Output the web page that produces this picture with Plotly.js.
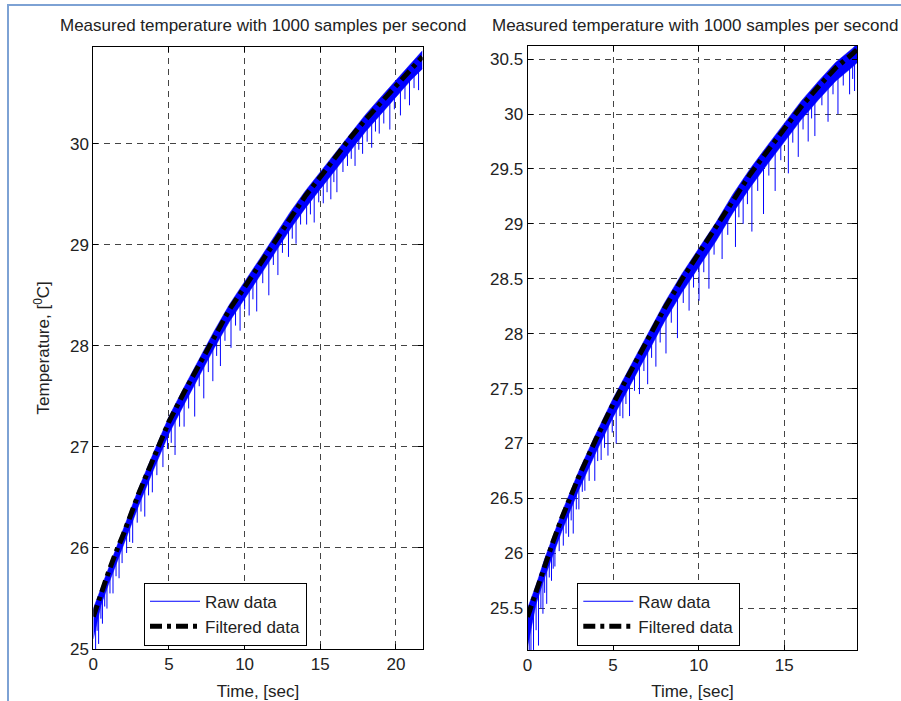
<!DOCTYPE html>
<html>
<head>
<meta charset="utf-8">
<script src="https://cdn.plot.ly/plotly-3.0.1.min.js"></script>
<style>
  html, body { margin: 0; padding: 0; background: #ffffff; }
  #wrap { position: relative; width: 901px; height: 701px; overflow: hidden; }
  #chart { position: absolute; left: 0; top: 0; width: 901px; height: 701px; }
  #frame { position: absolute; left: 7px; top: 4px; width: 894px; height: 697px;
           border-top: 2px solid #7da2d4; border-left: 2px solid #7da2d4;
           pointer-events: none; box-sizing: border-box; }
</style>
</head>
<body>
<div id="wrap">
  <div id="chart"></div>
  <div id="frame"></div>
</div>
<script>
// ---------------- texts ----------------
const titleText = "Measured temperature with 1000 samples per second";
const xTitle = "Time, [sec]";
const yTitle = "Temperature, [<sup>0</sup>C]";
const rawName = "Raw data";
const filtName = "Filtered data";

// ---------------- data: left panel ----------------
const leftT     = [0, 0.5, 1, 1.5, 2, 3, 4, 5, 6, 7, 8, 9, 10, 11, 12, 13, 14, 15, 16, 17, 18, 19, 20, 21, 21.75];
const leftFilt  = [25.32, 25.55, 25.76, 25.96, 26.14, 26.54, 26.90, 27.25, 27.54, 27.82, 28.10, 28.36, 28.58, 28.81, 29.04, 29.27, 29.48, 29.67, 29.87, 30.06, 30.24, 30.41, 30.58, 30.75, 30.86];
const leftRawHi = [25.40, 25.60, 25.81, 26.01, 26.19, 26.59, 26.95, 27.30, 27.59, 27.87, 28.15, 28.41, 28.63, 28.86, 29.09, 29.32, 29.53, 29.72, 29.92, 30.11, 30.29, 30.46, 30.63, 30.80, 30.92];
const leftRawLo = [25.10, 25.43, 25.64, 25.84, 26.02, 26.42, 26.78, 27.13, 27.42, 27.70, 27.98, 28.24, 28.46, 28.69, 28.92, 29.15, 29.36, 29.55, 29.75, 29.94, 30.12, 30.29, 30.46, 30.63, 30.74];
// deep downward spikes of the raw signal
const leftSpikeT   = [0.15, 0.35, 0.6, 0.9, 1.3, 1.7, 2.2, 2.6, 3.4, 3.9, 4.6, 5.4, 6.0, 6.7, 7.3, 7.9, 8.4, 9.1, 9.7, 10.3, 10.8, 11.6, 12.2, 12.9, 13.4, 14.1, 14.6, 15.2, 15.7, 16.1, 16.5, 17.3, 17.8, 18.4, 18.9, 19.6, 20.3, 20.9, 21.5];
const leftSpikeTop = [25.34, 25.43, 25.54, 25.67, 25.83, 25.98, 26.17, 26.33, 26.63, 26.81, 27.06, 27.32, 27.49, 27.69, 27.85, 28.02, 28.15, 28.33, 28.46, 28.60, 28.71, 28.90, 29.04, 29.20, 29.30, 29.45, 29.54, 29.66, 29.76, 29.84, 29.92, 30.06, 30.15, 30.26, 30.34, 30.46, 30.58, 30.68, 30.77];
const leftSpikeBot = [25.00, 25.05, 25.25, 25.40, 25.55, 25.70, 25.95, 26.05, 26.31, 26.55, 26.80, 26.92, 27.20, 27.30, 27.48, 27.65, 27.80, 27.98, 28.15, 28.30, 28.34, 28.50, 28.70, 28.88, 29.01, 29.20, 29.22, 29.41, 29.45, 29.52, 29.72, 29.78, 29.90, 29.96, 30.10, 30.14, 30.28, 30.38, 30.53];
// shallower downward spikes
const leftSpike2T   = [0.25, 0.5, 0.75, 1.1, 1.5, 1.9, 2.4, 2.9, 3.15, 3.65, 4.2, 4.9, 5.15, 5.7, 6.3, 7.0, 7.6, 8.15, 8.7, 9.4, 10.0, 10.55, 11.2, 11.9, 12.5, 13.15, 13.7, 14.35, 14.9, 15.45, 15.9, 16.8, 17.05, 17.55, 18.1, 18.65, 19.2, 19.9, 20.6, 21.2];
const leftSpike2Top = [25.40, 25.51, 25.62, 25.76, 25.92, 26.06, 26.26, 26.46, 26.55, 26.73, 26.93, 27.18, 27.25, 27.41, 27.58, 27.78, 27.95, 28.10, 28.24, 28.41, 28.54, 28.66, 28.82, 28.98, 29.12, 29.26, 29.38, 29.51, 29.61, 29.72, 29.81, 29.98, 30.03, 30.12, 30.22, 30.31, 30.40, 30.52, 30.64, 30.74];
const leftSpike2Bot = [25.18, 25.30, 25.42, 25.55, 25.72, 25.85, 26.06, 26.25, 26.36, 26.52, 26.72, 26.98, 27.04, 27.20, 27.38, 27.60, 27.74, 27.90, 28.05, 28.20, 28.36, 28.46, 28.62, 28.80, 28.92, 29.06, 29.20, 29.30, 29.42, 29.52, 29.62, 29.78, 29.85, 29.94, 30.02, 30.12, 30.20, 30.34, 30.44, 30.55];
const leftXTicks  = [0, 5, 10, 15, 20];
const leftYTicks  = [25, 26, 27, 28, 29, 30];
const leftYLabels = ["25", "26", "27", "28", "29", "30"];

// ---------------- data: right panel ----------------
const rightT     = [0, 0.5, 1, 1.5, 2, 3, 4, 5, 6, 7, 8, 9, 10, 11, 12, 13, 14, 15, 16, 17, 18, 19, 19.27];
const rightFilt  = [25.42, 25.66, 25.90, 26.11, 26.32, 26.70, 27.04, 27.36, 27.65, 27.95, 28.23, 28.49, 28.73, 28.96, 29.22, 29.45, 29.66, 29.86, 30.07, 30.25, 30.42, 30.55, 30.59];
const rightRawHi = [25.50, 25.71, 25.95, 26.16, 26.37, 26.75, 27.09, 27.41, 27.70, 28.00, 28.28, 28.54, 28.78, 29.01, 29.27, 29.50, 29.71, 29.91, 30.12, 30.30, 30.47, 30.60, 30.64];
const rightRawLo = [25.15, 25.54, 25.78, 25.99, 26.20, 26.58, 26.92, 27.24, 27.53, 27.83, 28.11, 28.37, 28.61, 28.84, 29.10, 29.33, 29.54, 29.74, 29.95, 30.13, 30.30, 30.43, 30.47];
const rightSpikeT   = [0.2, 0.35, 0.64, 0.9, 1.12, 1.4, 1.6, 2.09, 2.4, 2.67, 3.0, 3.35, 3.93, 4.3, 4.7, 5.18, 5.57, 5.96, 6.54, 7.02, 7.5, 8.09, 8.76, 9.44, 10.02, 10.6, 11.37, 12.15, 12.6, 13.11, 13.79, 14.47, 15.24, 15.82, 16.4, 16.79, 17.56, 18.14, 18.82, 19.11];
const rightSpikeTop = [25.47, 25.54, 25.68, 25.80, 25.90, 26.02, 26.10, 26.30, 26.42, 26.52, 26.65, 26.77, 26.97, 27.09, 27.21, 27.36, 27.48, 27.59, 27.76, 27.91, 28.04, 28.20, 28.38, 28.55, 28.68, 28.82, 29.01, 29.20, 29.31, 29.42, 29.57, 29.70, 29.86, 29.98, 30.10, 30.18, 30.31, 30.39, 30.48, 30.51];
const rightSpikeBot = [25.08, 25.12, 25.16, 25.45, 25.54, 25.75, 25.88, 26.07, 26.15, 26.18, 26.40, 26.57, 26.66, 26.85, 26.89, 27.00, 27.23, 27.25, 27.45, 27.54, 27.70, 27.82, 27.96, 28.21, 28.30, 28.41, 28.68, 28.79, 29.00, 28.93, 29.09, 29.30, 29.46, 29.61, 29.75, 29.80, 29.93, 30.00, 30.18, 30.21];
const rightSpike2T   = [0.1, 0.5, 0.78, 1.0, 1.27, 1.5, 1.85, 2.25, 2.55, 2.85, 3.2, 3.6, 4.1, 4.5, 4.95, 5.4, 5.75, 6.25, 6.8, 7.25, 7.75, 8.4, 9.1, 9.7, 10.3, 10.9, 11.7, 12.35, 12.85, 13.45, 14.1, 14.8, 15.5, 16.1, 16.6, 17.2, 17.85, 18.45, 19.0];
const rightSpike2Top = [25.43, 25.62, 25.75, 25.86, 25.97, 26.07, 26.22, 26.37, 26.49, 26.60, 26.73, 26.87, 27.03, 27.16, 27.30, 27.44, 27.54, 27.68, 27.85, 27.98, 28.12, 28.29, 28.47, 28.62, 28.76, 28.90, 29.10, 29.26, 29.38, 29.50, 29.64, 29.78, 29.92, 30.05, 30.15, 30.26, 30.37, 30.45, 30.51];
const rightSpike2Bot = [25.12, 25.30, 25.50, 25.64, 25.78, 25.86, 26.02, 26.18, 26.30, 26.40, 26.56, 26.66, 26.84, 26.96, 27.10, 27.25, 27.36, 27.48, 27.66, 27.78, 27.92, 28.10, 28.28, 28.42, 28.56, 28.72, 28.90, 29.06, 29.18, 29.30, 29.44, 29.58, 29.74, 29.86, 29.96, 30.08, 30.18, 30.26, 30.32];
const rightXTicks  = [0, 5, 10, 15];
const rightYTicks  = [25.5, 26, 26.5, 27, 27.5, 28, 28.5, 29, 29.5, 30, 30.5];
const rightYLabels = ["25.5", "26", "26.5", "27", "27.5", "28", "28.5", "29", "29.5", "30", "30.5"];

// ---------------- build ----------------
const BLUE = "#0000ff";
const FONT = "Liberation Sans, Arial, Helvetica, sans-serif";
const TXT = "#222222";

function spikes(sets) {
  const x = [], y = [];
  sets.forEach(function (s) {
    for (let i = 0; i < s[0].length; i++) {
      x.push(s[0][i], s[0][i], null);
      y.push(s[1][i], s[2][i], null);
    }
  });
  return {x: x, y: y};
}

function panel(T, filt, hi, lo, spikeSets, xa, ya, leg) {
  const sp = spikes(spikeSets);
  return [
    {x: T, y: lo, xaxis: xa, yaxis: ya, type: "scatter", mode: "lines",
     line: {color: BLUE, width: 0.5}, showlegend: false, hoverinfo: "skip"},
    {x: T, y: hi, xaxis: xa, yaxis: ya, type: "scatter", mode: "lines",
     fill: "tonexty", fillcolor: BLUE,
     line: {color: BLUE, width: 0.5}, showlegend: false, hoverinfo: "skip"},
    {x: sp.x, y: sp.y, xaxis: xa, yaxis: ya, type: "scatter", mode: "lines",
     name: rawName, legend: leg, connectgaps: false,
     line: {color: BLUE, width: 1}},
    {x: T, y: filt, xaxis: xa, yaxis: ya, type: "scatter", mode: "lines",
     name: filtName, legend: leg, line: {color: "#000000", width: 5, dash: "12px,5px,4px,5px"}}
  ];
}

const data = [].concat(
  panel(leftT, leftFilt, leftRawHi, leftRawLo,
        [[leftSpikeT, leftSpikeTop, leftSpikeBot], [leftSpike2T, leftSpike2Top, leftSpike2Bot]],
        "x", "y", "legend"),
  panel(rightT, rightFilt, rightRawHi, rightRawLo,
        [[rightSpikeT, rightSpikeTop, rightSpikeBot], [rightSpike2T, rightSpike2Top, rightSpike2Bot]],
        "x2", "y2", "legend2")
);

const axCommon = {
  showline: true, linecolor: "#000000", linewidth: 1, mirror: "ticks",
  ticks: "inside", ticklen: 5, tickcolor: "#000000", tickwidth: 1,
  showgrid: true, gridcolor: "#444444", gridwidth: 1, griddash: "6px,5px",
  zeroline: false, tickfont: {family: FONT, size: 17, color: TXT},
  fixedrange: true
};

const legCommon = {
  bgcolor: "#ffffff", bordercolor: "#000000", borderwidth: 1,
  font: {family: FONT, size: 17, color: TXT},
  xanchor: "left", yanchor: "top", tracegroupgap: 0, traceorder: "normal",
  itemwidth: 50
};

const layout = {
  width: 901, height: 701,
  margin: {l: 0, r: 0, t: 0, b: 0},
  paper_bgcolor: "#ffffff", plot_bgcolor: "#ffffff",
  font: {family: FONT, size: 17, color: TXT},
  xaxis: Object.assign({}, axCommon, {
    domain: [0.1036, 0.4691], range: [0, 21.77], anchor: "y",
    tickvals: leftXTicks,
    title: {text: xTitle, font: {family: FONT, size: 17, color: TXT}}
  }),
  yaxis: Object.assign({}, axCommon, {
    domain: [0.0742, 0.9334], range: [25, 30.96], anchor: "x",
    tickvals: leftYTicks, ticktext: leftYLabels,
    title: {text: yTitle, font: {family: FONT, size: 17, color: TXT}}
  }),
  xaxis2: Object.assign({}, axCommon, {
    domain: [0.5855, 0.9515], range: [0, 19.27], anchor: "y2",
    tickvals: rightXTicks,
    title: {text: xTitle, font: {family: FONT, size: 17, color: TXT}}
  }),
  yaxis2: Object.assign({}, axCommon, {
    domain: [0.0728, 0.9344], range: [25.12, 30.62], anchor: "x2",
    tickvals: rightYTicks, ticktext: rightYLabels
  }),
  legend: Object.assign({}, legCommon, {x: 144 / 901, y: (701 - 582.7) / 701}),
  legend2: Object.assign({}, legCommon, {x: 577.3 / 901, y: (701 - 582.7) / 701}),
  annotations: [
    {text: titleText, xref: "paper", yref: "paper", x: 262.5 / 901, y: (701 - 26) / 701,
     xanchor: "center", yanchor: "middle", showarrow: false,
     font: {family: FONT, size: 17, color: TXT}},
    {text: titleText, xref: "paper", yref: "paper", x: 695 / 901, y: (701 - 26) / 701,
     xanchor: "center", yanchor: "middle", showarrow: false,
     font: {family: FONT, size: 17, color: TXT}}
  ],
  showlegend: true
};

Plotly.newPlot("chart", data, layout, {displayModeBar: false, staticPlot: true});
</script>
</body>
</html>
